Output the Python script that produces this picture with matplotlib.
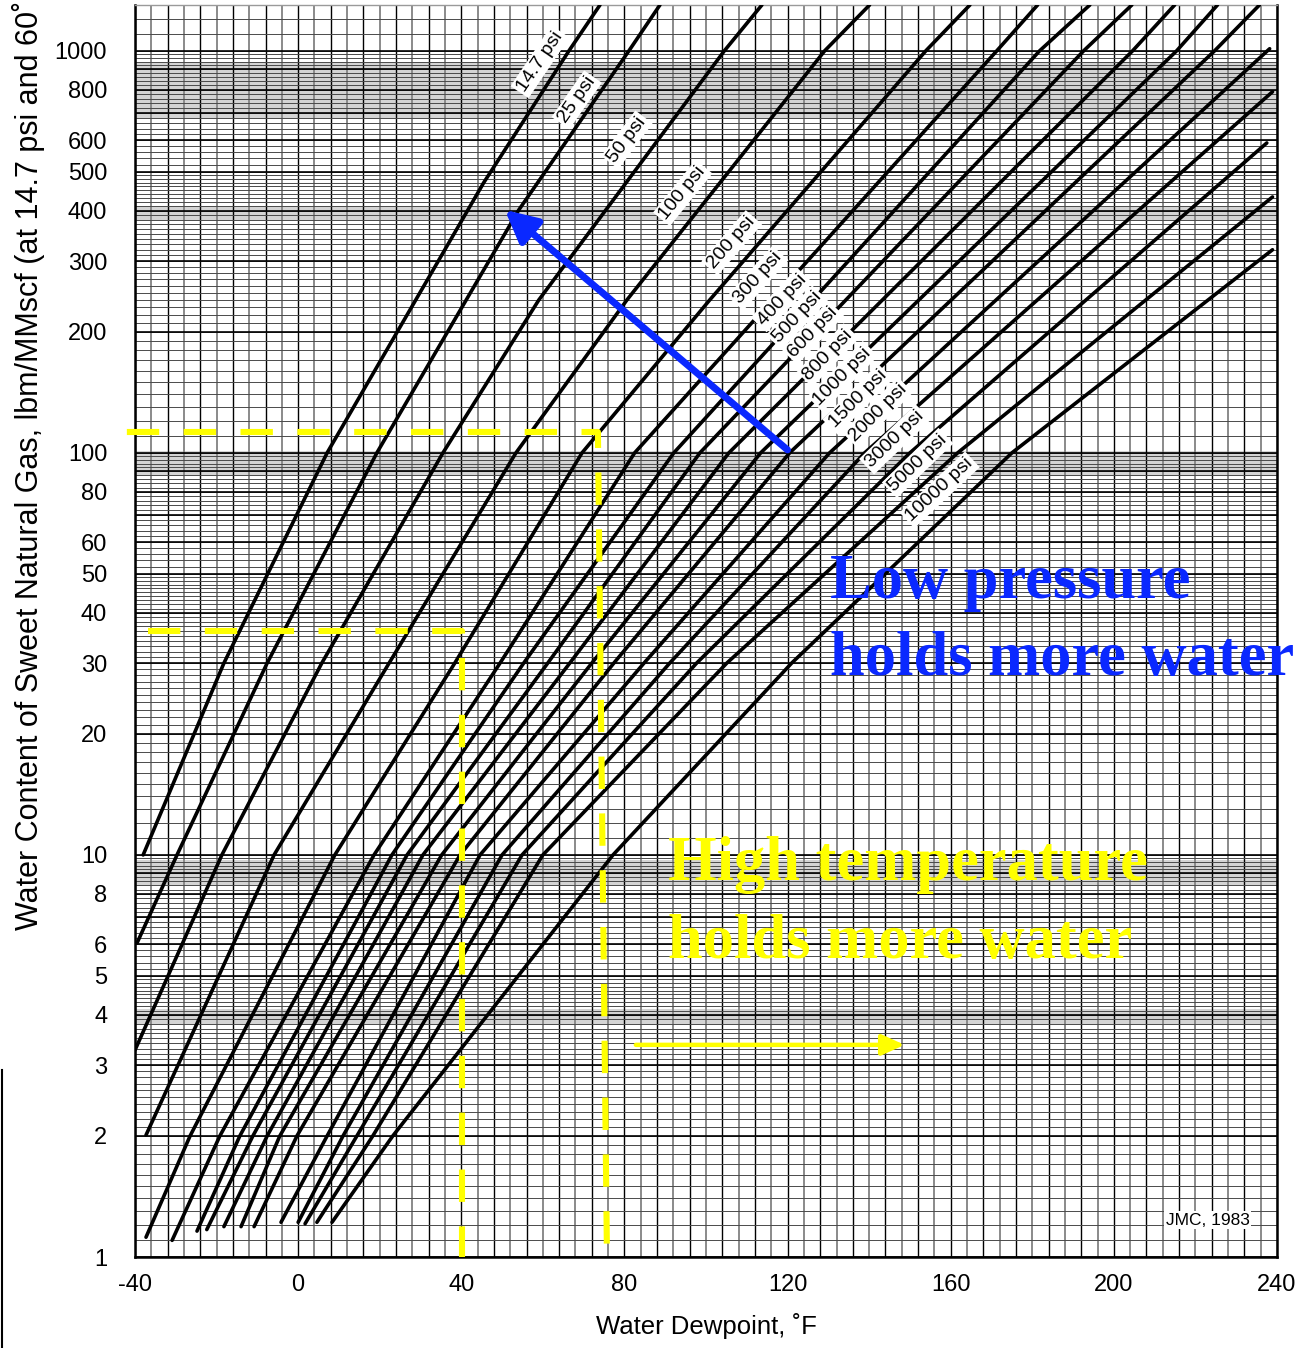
import matplotlib

matplotlib.use("Agg")
import matplotlib.pyplot as plt
from matplotlib.lines import Line2D
from matplotlib.ticker import NullLocator
import numpy as np

W_PX, H_PX, DPI = 1310, 1348, 100

# dewpoint (F) / water content (lbm/MMscf), one pair per pressure line
T_14_7 = [-38.0, -18.2, 7.1, 45.5, 66.4, 74.0]
W_14_7 = [10, 30, 100, 470, 1000, 1300]
T_25 = [-39.5, -29.7, -7.6, 19.3, 54.1, 81.1, 88.7]
W_25 = [6.04, 10, 30, 100, 402, 1000, 1300]
T_50 = [-40.0, -18.7, 5.8, 35.5, 59.0, 104.5, 113.7]
W_50 = [3.27, 10, 30, 100, 240, 1000, 1300]
T_100 = [-37.3, -5.9, 22.3, 53.4, 80.6, 129.1, 140.1]
W_100 = [2.01, 10, 30, 100, 240, 1000, 1300]
T_200 = [-37.3, -26.5, 9.0, 38.4, 69.6, 100.9, 153.9, 164.7]
W_200 = [1.12, 2, 10, 30, 100, 240, 1000, 1300]
T_300 = [-30.9, -19.2, 18.6, 49.5, 82.5, 171.3, 181.3]
W_300 = [1.10, 2, 10, 30, 100, 1000, 1300]
T_400 = [-24.8, -14.3, 23.0, 55.3, 92.1, 181.8, 194.1]
W_400 = [1.16, 2, 10, 30, 100, 1000, 1300]
T_500 = [-22.4, -11.1, 26.7, 61.2, 98.5, 192.6, 204.4]
W_500 = [1.17, 2, 10, 30, 100, 1000, 1300]
T_600 = [-18.2, -7.6, 30.6, 66.6, 105.6, 204.6, 214.9]
W_600 = [1.19, 2, 10, 30, 100, 1000, 1300]
T_800 = [-14.0, -4.5, 35.2, 72.0, 113.4, 215.4, 225.4]
W_800 = [1.19, 2, 10, 30, 100, 1000, 1300]
T_1000 = [-10.8, -0.3, 39.7, 77.4, 120.5, 224.7, 235.7]
W_1000 = [1.19, 2, 10, 30, 100, 1000, 1300]
T_1500 = [-4.2, 7.1, 44.6, 84.8, 130.3, 238.2]
W_1500 = [1.22, 2, 10, 30, 100, 1012]
T_2000 = [0.0, 11.0, 50.0, 91.1, 138.9, 238.9]
W_2000 = [1.22, 2, 10, 30, 100, 791]
T_3000 = [1.7, 14.4, 54.9, 97.7, 150.0, 237.5]
W_3000 = [1.21, 2, 10, 30, 100, 590]
T_5000 = [4.6, 18.3, 60.0, 105.1, 161.7, 238.9]
W_5000 = [1.22, 2, 10, 30, 100, 433]
T_10000 = [8.3, 23.2, 77.2, 121.0, 175.0, 238.9]
W_10000 = [1.22, 2, 10, 30, 100, 320]

PRESSURES = ["14.7", "25", "50", "100", "200", "300", "400", "500", "600",
             "800", "1000", "1500", "2000", "3000", "5000", "10000"]
LABEL_T = [59.3, 68.3, 80.6, 94.3, 106.3, 112.7, 118.6, 122.3, 126.2,
           129.9, 133.5, 137.2, 142.1, 146.3, 151.9, 157.3]
LABEL_W = [939, 755, 601, 443, 333, 272, 240, 217, 199,
           175, 155, 136, 126, 108, 94.4, 80.9]
LABEL_ROT = [56, 55, 53, 51, 49, 48, 47, 47, 46, 46, 45, 45, 45, 44, 44, 43]

X_TICKS = [-40, 0, 40, 80, 120, 160, 200, 240]
Y_TICKS = [1, 2, 3, 4, 5, 6, 8, 10, 20, 30, 40, 50, 60, 80,
           100, 200, 300, 400, 500, 600, 800, 1000]

# worked examples drawn over the chart
EX1_T = [-42.0, 73.5, 75.7]
EX1_W = [112.7, 112.7, 1.04]
EX2_T = [-36.8, 40.1, 40.1]
EX2_W = [36.1, 36.1, 1.0]
P_ARROW_T = [120.0, 50.7]
P_ARROW_W = [101.7, 402.0]
T_ARROW_T = [82.8, 148.7]
T_ARROW_W = [3.37, 3.37]

# grey bands left by the scan of the paper chart (water-content ranges)
SCAN_BANDS = [(680, 930), (380, 412), (88, 101), (8.4, 9.7), (3.8, 4.15)]

SANS = ["Liberation Sans", "DejaVu Sans"]
SERIF = ["Liberation Serif", "DejaVu Serif"]
BLUE = "#0a28ff"
YELLOW = "#ffff00"


def _fig_xy(px: float, py: float) -> tuple[float, float]:
    return px / W_PX, 1.0 - py / H_PX


def _draw_grid(ax) -> None:
    for lo, hi in SCAN_BANDS:
        ax.axhspan(lo, hi, color="#d4d4d4", lw=0, zorder=0.5)
    for i, t in enumerate(np.arange(-40, 241, 4)):
        if i % 2 == 0:
            ax.axvline(t, color="black", lw=1.0, zorder=1)
        else:
            ax.axvline(t, color="#8a8a8a", lw=1.4, zorder=1)
    fine = np.round(np.concatenate([np.arange(1.0, 5.0, 0.1), np.arange(5.0, 10.0, 0.2)]), 2)
    for d in (1, 10, 100, 1000):
        for v in fine * d:
            ax.axhline(v, color="#4a4a4a", lw=0.7, zorder=1)
        for v in np.arange(1, 10) * d:
            ax.axhline(v, color="black", lw=1.2, zorder=1)


def main() -> None:
    plt.rcParams["font.family"] = SANS
    fig = plt.figure(figsize=(W_PX / DPI, H_PX / DPI), dpi=DPI)
    x0, y0 = _fig_xy(135, 1257)
    x1, y1 = _fig_xy(1277, 5)
    ax = fig.add_axes([x0, y0, x1 - x0, y1 - y0])
    ax.set_yscale("log")
    ax.set_xlim(-40, 240)
    ax.set_ylim(1, 1300)
    _draw_grid(ax)

    curves = [
        (T_14_7, W_14_7), (T_25, W_25), (T_50, W_50), (T_100, W_100),
        (T_200, W_200), (T_300, W_300), (T_400, W_400), (T_500, W_500),
        (T_600, W_600), (T_800, W_800), (T_1000, W_1000), (T_1500, W_1500),
        (T_2000, W_2000), (T_3000, W_3000), (T_5000, W_5000), (T_10000, W_10000),
    ]
    for t, w in curves:
        ax.plot(t, w, color="black", lw=2.6, solid_capstyle="round",
                solid_joinstyle="round", zorder=3)

    for p, t, w, rot in zip(PRESSURES, LABEL_T, LABEL_W, LABEL_ROT):
        ax.text(t, w, f"{p} psi", rotation=rot, ha="center", va="center",
                rotation_mode="anchor", fontsize=14, zorder=4,
                bbox=dict(boxstyle="square,pad=0.12", fc="white", ec="none"))

    ax.text(223, 1.236, "JMC, 1983", ha="center", va="center", fontsize=12.5, zorder=4,
            bbox=dict(boxstyle="square,pad=0.1", fc="white", ec="none"))

    ax.set_xticks(X_TICKS)
    ax.set_xticklabels([str(v) for v in X_TICKS])
    ax.set_yticks(Y_TICKS)
    ax.set_yticklabels([str(v) for v in Y_TICKS])
    ax.yaxis.set_minor_locator(NullLocator())
    ax.tick_params(axis="both", length=0, labelsize=17)
    ax.tick_params(axis="x", pad=12)
    ax.tick_params(axis="y", pad=20)
    for side, spine in ax.spines.items():
        spine.set_color("black" if side != "top" else "#9a9a9a")
        spine.set_linewidth(1.8 if side != "top" else 1.0)

    fig.text(*_fig_xy(706, 1334), "Water Dewpoint, \u02daF", ha="center", va="baseline",
             fontsize=18.5)
    fig.text(*_fig_xy(28, 930), "Water Content of Sweet Natural Gas, lbm/MMscf (at 14.7 psi and 60\u02daF)",
             rotation=90, ha="center", va="bottom", fontsize=22)

    dash = (0, (5.3, 4.0))
    for t, w in ((EX1_T, EX1_W), (EX2_T, EX2_W)):
        ax.plot(t, w, color=YELLOW, lw=4.4, linestyle=dash, clip_on=False, zorder=5)

    ax.annotate("", xy=(P_ARROW_T[1], P_ARROW_W[1]), xytext=(P_ARROW_T[0], P_ARROW_W[0]),
                arrowprops=dict(arrowstyle="-|>,head_length=0.55,head_width=0.28", color=BLUE,
                                lw=5, mutation_scale=35, shrinkA=0, shrinkB=0), zorder=6)
    ax.annotate("", xy=(T_ARROW_T[1], T_ARROW_W[1]), xytext=(T_ARROW_T[0], T_ARROW_W[0]),
                arrowprops=dict(arrowstyle="-|>,head_length=0.55,head_width=0.25", color=YELLOW,
                                lw=3.2, mutation_scale=25, shrinkA=0, shrinkB=0), zorder=6)

    big = dict(fontsize=45, fontweight="bold", family=SERIF, ha="left", va="baseline", zorder=7)
    fig.text(*_fig_xy(830, 598), "Low pressure", color=BLUE, **big)
    fig.text(*_fig_xy(830, 675), "holds more water", color=BLUE, **big)
    fig.text(*_fig_xy(668, 880), "High temperature", color=YELLOW, **big)
    fig.text(*_fig_xy(668, 958), "holds more water", color=YELLOW, **big)

    fig.add_artist(Line2D([1.5 / W_PX] * 2, [0, 1 - 1070 / H_PX], color="black", lw=1.5))

    fig.savefig("out.png", dpi=DPI)
    plt.close(fig)


if __name__ == "__main__":
    main()
